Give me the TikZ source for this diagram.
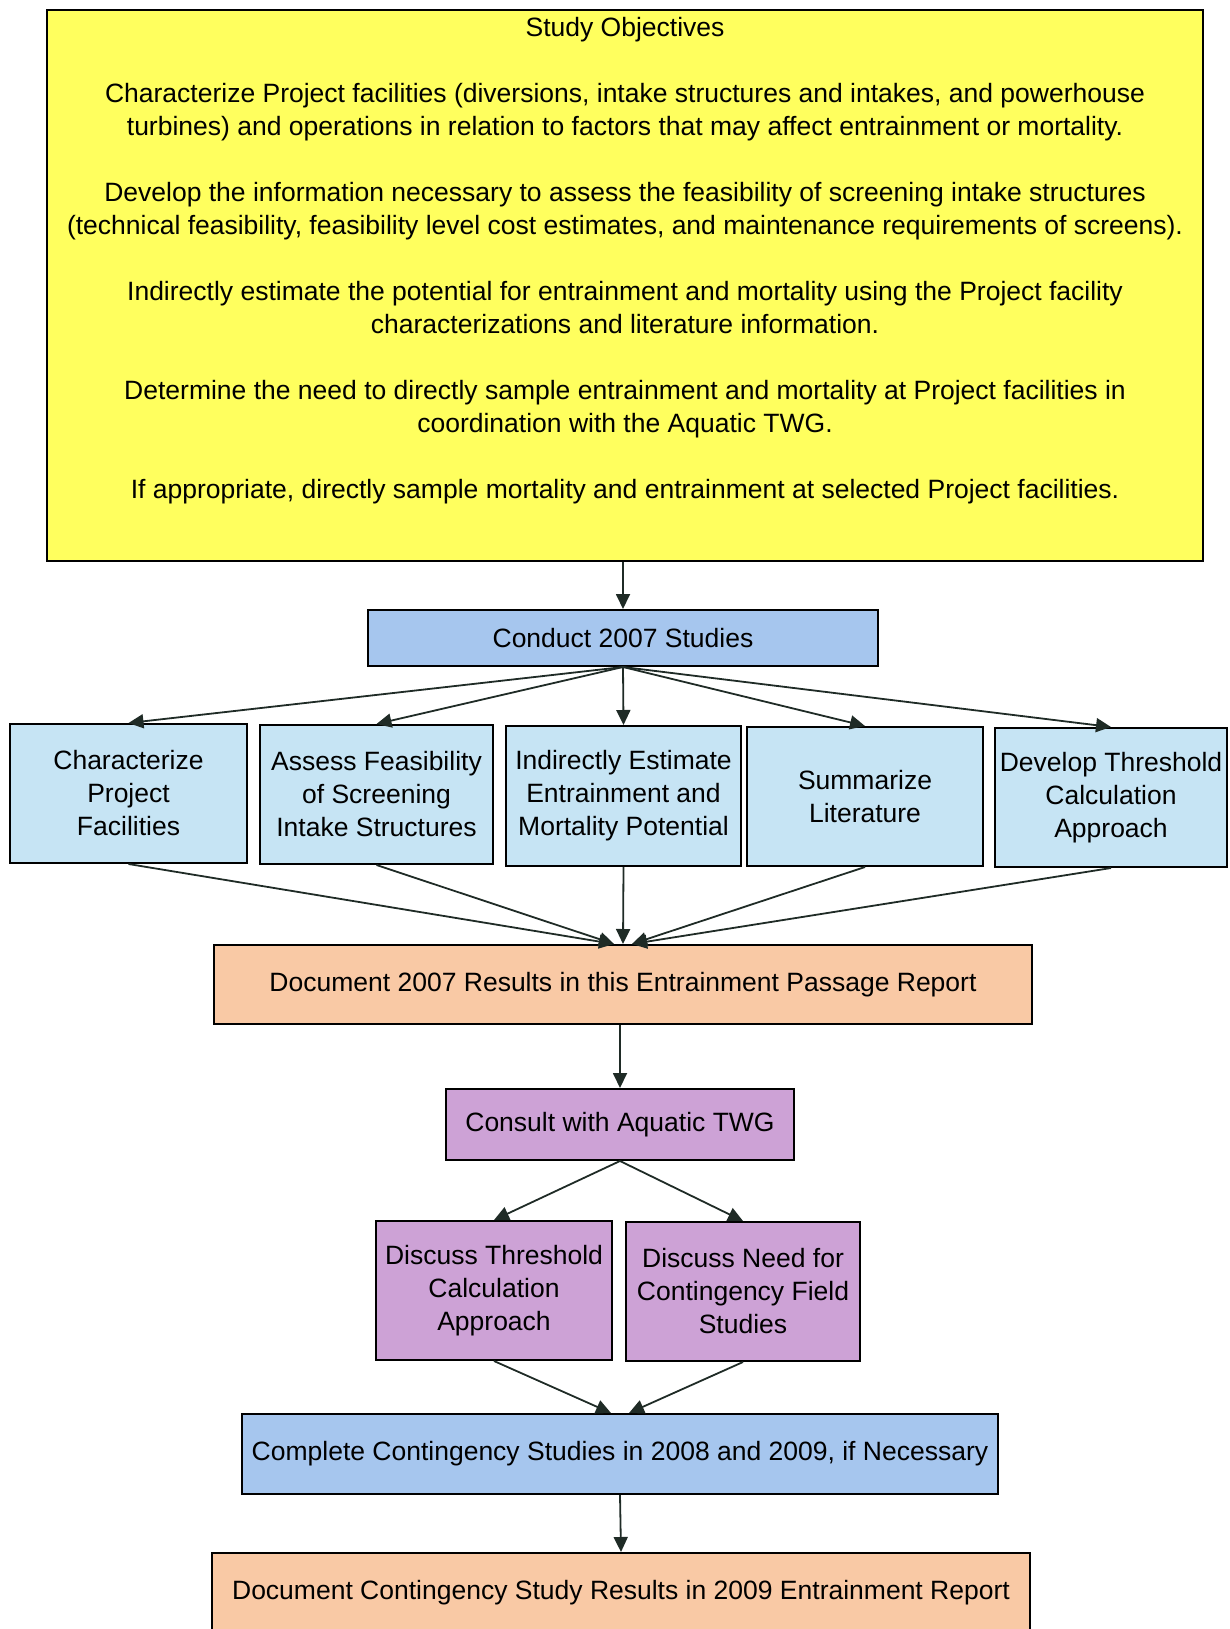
\documentclass[tikz,border=0pt]{standalone}
\usepackage{fontspec}
\setmainfont{Liberation Sans}
\usetikzlibrary{arrows.meta}
\definecolor{objyellow}{HTML}{FFFF5E}
\definecolor{midblue}{HTML}{A6C6EE}
\definecolor{lightblue}{HTML}{C6E4F4}
\definecolor{peach}{HTML}{F9C9A5}
\definecolor{lilac}{HTML}{CDA2D6}
\definecolor{arrowc}{HTML}{1F2B26}
\begin{document}
\begin{tikzpicture}[x=1pt,y=-1pt]
\tikzset{
  box/.style={draw=black, line width=2pt, inner sep=0pt, align=center,
              font=\fontsize{26.5}{33}\selectfont, text=black},
  arr/.style={draw=arrowc, line width=1.8pt, -{Triangle[length=15pt,width=14pt]}},
}
\useasboundingbox (0,0) rectangle (1229,1629);

\node[box, fill=objyellow, minimum width=1156pt, minimum height=551pt] (obj) at (625,285.5)
 {\parbox[t][543pt][t]{1150pt}{\centering\fontsize{26.5}{33}\selectfont\vspace*{3.5pt}%
Study Objectives\\[33pt]
Characterize Project facilities (diversions, intake structures and intakes, and powerhouse\\
turbines) and operations in relation to factors that may affect entrainment or mortality.\\[33pt]
Develop the information necessary to assess the feasibility of screening intake structures\\
(technical feasibility, feasibility level cost estimates, and maintenance requirements of screens).\\[33pt]
Indirectly estimate the potential for entrainment and mortality using the Project facility\\
characterizations and literature information.\\[33pt]
Determine the need to directly sample entrainment and mortality at Project facilities in\\
coordination with the Aquatic TWG.\\[33pt]
If appropriate, directly sample mortality and entrainment at selected Project facilities.}};

\node[box, fill=midblue, minimum width=510pt, minimum height=56pt] (conduct) at (623,638) {Conduct 2007 Studies};

\node[box, fill=lightblue, minimum width=237pt, minimum height=139pt] (c1) at (128.5,793.5) {Characterize\\Project\\Facilities};
\node[box, fill=lightblue, minimum width=233pt, minimum height=139pt] (c2) at (376.5,794.5) {Assess Feasibility\\of Screening\\Intake Structures};
\node[box, fill=lightblue, minimum width=235pt, minimum height=140pt] (c3) at (623.5,796) {Indirectly Estimate\\Entrainment and\\Mortality Potential};
\node[box, fill=lightblue, minimum width=236pt, minimum height=139pt] (c4) at (865,796.5) {Summarize\\Literature};
\node[box, fill=lightblue, minimum width=232pt, minimum height=139pt] (c5) at (1111,797.5) {Develop Threshold\\Calculation\\Approach};

\node[box, fill=peach, minimum width=818pt, minimum height=79pt] (doc) at (623,984.5) {Document 2007 Results in this Entrainment Passage Report};

\node[box, fill=lilac, minimum width=348pt, minimum height=71pt] (consult) at (620,1124.5) {Consult with Aquatic TWG};

\node[box, fill=lilac, minimum width=236pt, minimum height=139pt] (dt) at (494,1290.5) {Discuss Threshold\\Calculation\\Approach};
\node[box, fill=lilac, minimum width=234pt, minimum height=139pt] (dn) at (743,1291.5) {Discuss Need for\\Contingency Field\\Studies};

\node[box, fill=midblue, minimum width=756pt, minimum height=80pt] (complete) at (620,1454) {Complete Contingency Studies in 2008 and 2009, if Necessary};

\node[box, fill=peach, minimum width=818pt, minimum height=80pt] (docc) at (621,1593) {Document Contingency Study Results in 2009 Entrainment Report};

\draw[arr] (obj.south -| conduct.north) -- (conduct.north);
\foreach \n in {c1,c2,c3,c4,c5} \draw[arr] (conduct.south) -- (\n.north);
\draw[arr] (c1.south) -- ([xshift=-9pt]doc.north);
\draw[arr] (c2.south) -- ([xshift=-9pt]doc.north);
\draw[arr] (c3.south) -- (doc.north);
\draw[arr] (c4.south) -- ([xshift=9pt]doc.north);
\draw[arr] (c5.south) -- ([xshift=9pt]doc.north);
\draw[arr] (doc.south -| consult.north) -- (consult.north);
\draw[arr] (consult.south) -- (dt.north);
\draw[arr] (consult.south) -- (dn.north);
\draw[arr] (dt.south) -- ([xshift=-9pt]complete.north);
\draw[arr] (dn.south) -- ([xshift=9pt]complete.north);
\draw[arr] (complete.south) -- (docc.north);
\end{tikzpicture}
\end{document}
